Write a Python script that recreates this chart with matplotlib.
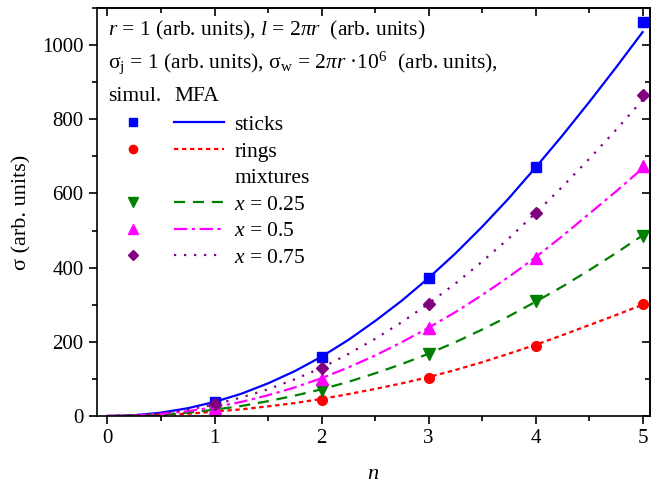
import matplotlib
matplotlib.use("Agg")
import matplotlib.pyplot as plt
from matplotlib.lines import Line2D
from matplotlib.legend_handler import HandlerTuple
from matplotlib.ticker import MultipleLocator

plt.rcParams['font.family'] = ['Liberation Serif', 'DejaVu Serif']
plt.rcParams['mathtext.fontset'] = 'custom'
plt.rcParams['mathtext.rm'] = 'Liberation Serif'
plt.rcParams['mathtext.it'] = 'Liberation Serif:italic'

# simulation points
n_sim = [1, 2, 3, 4, 5]
sticks_sim = [37, 158, 371, 672, 1061]
rings_sim = [10, 43, 103, 190, 302]
mix025_sim = [13, 70, 168, 309, 486]
mix05_sim = [22, 101, 237, 426, 675]
mix075_sim = [32, 129, 302, 547, 866]

# MFA curves, every 0.25
n_mfa = [0, 0.25, 0.5, 0.75, 1, 1.25, 1.5, 1.75, 2, 2.25, 2.5, 2.75,
         3, 3.25, 3.5, 3.75, 4, 4.25, 4.5, 4.75, 5]
sticks_mfa = [0, 2, 9, 21, 38, 60, 88, 121, 160, 205, 256, 311,
              372, 438, 510, 587, 670, 756, 846, 939, 1035]
rings_mfa = [0, 1, 3, 6, 12, 18, 26, 35, 46, 59, 73, 88,
             105, 124, 145, 168, 192, 218, 245, 272, 300]
mix025_mfa = [0, 1, 4, 9, 17, 27, 40, 55, 72, 92, 115, 140,
              168, 199, 233, 269, 308, 349, 393, 439, 487]
mix05_mfa = [0, 1, 6, 13, 24, 38, 56, 77, 102, 131, 163, 199,
             238, 280, 326, 375, 428, 485, 545, 605, 668]
mix075_mfa = [0, 2, 8, 17, 31, 50, 72, 99, 130, 167, 208, 253,
              303, 357, 416, 479, 547, 618, 693, 771, 852]

fig = plt.figure(figsize=(6.54, 4.86), dpi=100)
ax = fig.add_axes([0.148, 0.144, 0.846, 0.8395])

series = [
    (sticks_sim, sticks_mfa, '#0000ff', 's', 6.5, '-', 'sticks'),
    (rings_sim, rings_mfa, '#ff0000', 'o', 7, (0, (2, 1.6)), 'rings'),
    (mix025_sim, mix025_mfa, '#008000', 'v', 8, (0, (5, 3.5)), '$x$ = 0.25'),
    (mix05_sim, mix05_mfa, '#ff00ff', '^', 8, (0, (6, 2, 1.5, 2)), '$x$ = 0.5'),
    (mix075_sim, mix075_mfa, '#800080', 'D', 6, (0, (1, 3.5)), '$x$ = 0.75'),
]

handles, labels = [], []
for sim, mfa, col, mk, ms, ls, lab in series:
    ax.plot(n_mfa, mfa, color=col, ls=ls, lw=1.6)
    ax.plot(n_sim, sim, color=col, marker=mk, ms=ms, ls='none')
    h = (Line2D([], [], color=col, marker=mk, ms=ms * 0.85, ls='none'),
         Line2D([], [], color=col, ls=ls, lw=1.6))
    handles.append(h)
    labels.append(lab)
    if lab == 'rings':
        handles.append((Line2D([], [], alpha=0), Line2D([], [], alpha=0)))
        labels.append('mixtures')

ax.legend(handles, labels, handler_map={tuple: HandlerTuple(ndivide=2, pad=0.7)},
          loc='upper left', bbox_to_anchor=(0.02, 0.738), frameon=False,
          borderaxespad=0, borderpad=0, handlelength=5.4, handletextpad=0.47,
          labelspacing=0.3, fontsize=15.5)

ax.text(0.02, 0.946, r'$r$ = 1 (arb. units), $l$ = 2$\pi r$  (arb. units)',
        transform=ax.transAxes, va='center', fontsize=15.5)
ax.text(0.02, 0.866, r'σ$_\mathrm{j}$ = 1 (arb. units), σ$_\mathrm{w}$ = 2$\pi r$ ·10$^6$  (arb. units),',
        transform=ax.transAxes, va='center', fontsize=15.5)
ax.text(0.02, 0.784, 'simul.', transform=ax.transAxes, va='center', fontsize=15.5)
ax.text(0.141, 0.784, 'MFA', transform=ax.transAxes, va='center', fontsize=15.5)

ax.set_xlim(-0.1, 5.07)
ax.set_ylim(0, 1100)
ax.xaxis.set_major_locator(MultipleLocator(1))
ax.xaxis.set_minor_locator(MultipleLocator(0.5))
ax.yaxis.set_major_locator(MultipleLocator(200))
ax.yaxis.set_minor_locator(MultipleLocator(100))
ax.tick_params(which='both', direction='out', width=1.2, labelsize=15)
ax.tick_params(which='major', length=6)
ax.tick_params(which='minor', length=3.5)

# mirrored ticks on top and right point inward
top = ax.secondary_xaxis('top')
right = ax.secondary_yaxis('right')
top.xaxis.set_major_locator(MultipleLocator(1))
top.xaxis.set_minor_locator(MultipleLocator(0.5))
right.yaxis.set_major_locator(MultipleLocator(200))
right.yaxis.set_minor_locator(MultipleLocator(100))
for sec in (top, right):
    sec.tick_params(which='both', direction='in', width=1.2, labeltop=False, labelright=False)
    sec.tick_params(which='major', length=6)
    sec.tick_params(which='minor', length=3.5)
    for sp in sec.spines.values():
        sp.set_linewidth(1.2)
for sp in ax.spines.values():
    sp.set_linewidth(1.2)

ax.set_xlabel('$n$', fontsize=16, labelpad=12)
ax.set_ylabel('σ (arb. units)', fontsize=16, labelpad=8)

fig.savefig('out.png', dpi=100)
